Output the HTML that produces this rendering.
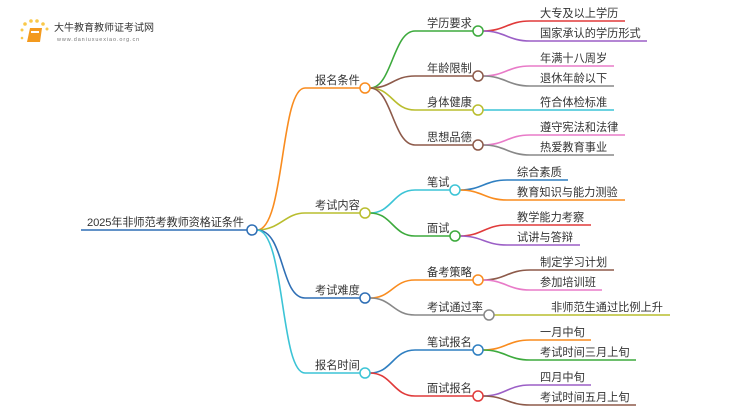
<!DOCTYPE html>
<html><head><meta charset="utf-8"><style>
body{margin:0;background:#fff;width:750px;height:410px;overflow:hidden}
svg{display:block}
text{font-family:"Liberation Sans","Noto Sans CJK SC",sans-serif;font-size:11.2px;fill:#333}
path.c{fill:none;stroke-width:1.6}
circle.n{fill:#fff;stroke-width:1.5}
</style></head><body>
<svg width="750" height="410" viewBox="0 0 750 410">
<!-- logo -->
<g>
<circle cx="22" cy="30" r="1.5" style="fill:#f9c84a"/>
<circle cx="25" cy="24" r="1.8" style="fill:#f9c84a"/>
<circle cx="31" cy="21" r="1.8" style="fill:#f9c84a"/>
<circle cx="37" cy="21" r="1.8" style="fill:#f9c84a"/>
<circle cx="43" cy="24" r="1.8" style="fill:#f9c84a"/>
<circle cx="47" cy="29" r="1.5" style="fill:#f9c84a"/>
<circle cx="22" cy="38" r="1.3" style="fill:#f9c84a"/>
<path d="M30 28 H42 L40 42 H27 Z" style="fill:#f39a1e"/>
<rect x="31" y="31" width="8" height="2" style="fill:#fff"/>
<text x="54" y="31" style="font-size:10px;fill:#333">大牛教育教师证考试网</text>
<text x="57" y="41" style="font-size:5.5px;fill:#777;letter-spacing:0.9px">www.daniuxuexiao.org.cn</text>
</g>

<!-- root -->
<path class="c" d="M81 230 H247" stroke="#2f6fb5"/>
<text x="87" y="226" textLength="157">2025年非师范考教师资格证条件</text>

<!-- root -> L1 -->
<path class="c" d="M257 230 C285 230 280 88 305 88 H360" stroke="#f98c1f"/>
<path class="c" d="M257 230 C280 230 285 213 305 213 H360" stroke="#b9bd2e"/>
<path class="c" d="M257 230 C285 230 280 298 305 298 H360" stroke="#2f6fb5"/>
<path class="c" d="M257 230 C285 230 280 373 305 373 H360" stroke="#3cc4d6"/>
<text x="315" y="84">报名条件</text>
<text x="315" y="209">考试内容</text>
<text x="315" y="294">考试难度</text>
<text x="315" y="369">报名时间</text>

<!-- L1 -> L2 -->
<path class="c" d="M370 88 C392 88 393 31 415 31 H473" stroke="#3daa3d"/>
<path class="c" d="M370 88 C392 88 393 76 415 76 H473" stroke="#8d5a4a"/>
<path class="c" d="M370 88 C392 88 393 110 415 110 H473" stroke="#b9bd2e"/>
<path class="c" d="M370 88 C392 88 393 145 415 145 H473" stroke="#8d5a4a"/>
<path class="c" d="M370 213 C392 213 393 190 415 190 H450" stroke="#3cc4d6"/>
<path class="c" d="M370 213 C392 213 393 236 415 236 H450" stroke="#3daa3d"/>
<path class="c" d="M370 298 C392 298 393 280 415 280 H473" stroke="#f98c1f"/>
<path class="c" d="M370 298 C392 298 393 315 415 315 H484" stroke="#888"/>
<path class="c" d="M370 373 C392 373 393 350 415 350 H473" stroke="#2f7fc1"/>
<path class="c" d="M370 373 C392 373 393 396 415 396 H473" stroke="#e03a3a"/>
<text x="427" y="27">学历要求</text>
<text x="427" y="72">年龄限制</text>
<text x="427" y="106">身体健康</text>
<text x="427" y="141">思想品德</text>
<text x="427" y="186">笔试</text>
<text x="427" y="232">面试</text>
<text x="427" y="276">备考策略</text>
<text x="427" y="311">考试通过率</text>
<text x="427" y="346">笔试报名</text>
<text x="427" y="392">面试报名</text>

<!-- L2 -> L3 -->
<path class="c" d="M483 31 C505 31 508 21 530 21 H625" stroke="#e03a3a"/>
<path class="c" d="M483 31 C505 31 508 41 530 41 H647" stroke="#9b5fc6"/>
<path class="c" d="M483 76 C505 76 508 66 530 66 H614" stroke="#e87bc8"/>
<path class="c" d="M483 76 C505 76 508 86 530 86 H614" stroke="#888"/>
<path class="c" d="M483 110 H614" stroke="#3cc4d6"/>
<path class="c" d="M483 145 C505 145 508 135 530 135 H625" stroke="#e87bc8"/>
<path class="c" d="M483 145 C505 145 508 155 530 155 H614" stroke="#888"/>
<path class="c" d="M460 190 C482 190 485 180 507 180 H568" stroke="#2f7fc1"/>
<path class="c" d="M460 190 C482 190 485 200 507 200 H625" stroke="#f98c1f"/>
<path class="c" d="M460 236 C482 236 485 225 507 225 H591" stroke="#e03a3a"/>
<path class="c" d="M460 236 C482 236 485 245 507 245 H580" stroke="#9b5fc6"/>
<path class="c" d="M483 280 C505 280 508 270 530 270 H614" stroke="#8d5a4a"/>
<path class="c" d="M483 280 C505 280 508 290 530 290 H602" stroke="#e87bc8"/>
<path class="c" d="M494 315 H670" stroke="#b9bd2e"/>
<path class="c" d="M483 350 C505 350 508 340 530 340 H591" stroke="#f98c1f"/>
<path class="c" d="M483 350 C505 350 508 360 530 360 H636" stroke="#3daa3d"/>
<path class="c" d="M483 396 C505 396 508 385 530 385 H591" stroke="#9b5fc6"/>
<path class="c" d="M483 396 C505 396 508 405 530 405 H636" stroke="#8d5a4a"/>

<text x="540" y="17">大专及以上学历</text>
<text x="540" y="37">国家承认的学历形式</text>
<text x="540" y="62">年满十八周岁</text>
<text x="540" y="82">退休年龄以下</text>
<text x="540" y="106">符合体检标准</text>
<text x="540" y="131">遵守宪法和法律</text>
<text x="540" y="151">热爱教育事业</text>
<text x="517" y="176">综合素质</text>
<text x="517" y="196">教育知识与能力测验</text>
<text x="517" y="221">教学能力考察</text>
<text x="517" y="241">试讲与答辩</text>
<text x="540" y="266">制定学习计划</text>
<text x="540" y="286">参加培训班</text>
<text x="551" y="311">非师范生通过比例上升</text>
<text x="540" y="336">一月中旬</text>
<text x="540" y="356">考试时间三月上旬</text>
<text x="540" y="381">四月中旬</text>
<text x="540" y="401">考试时间五月上旬</text>

<!-- circles -->
<circle class="n" cx="252" cy="230" r="5" stroke="#2f6fb5"/>
<circle class="n" cx="365" cy="88" r="5" stroke="#f98c1f"/>
<circle class="n" cx="365" cy="213" r="5" stroke="#b9bd2e"/>
<circle class="n" cx="365" cy="298" r="5" stroke="#2f6fb5"/>
<circle class="n" cx="365" cy="373" r="5" stroke="#3cc4d6"/>
<circle class="n" cx="478" cy="31" r="5" stroke="#3daa3d"/>
<circle class="n" cx="478" cy="76" r="5" stroke="#8d5a4a"/>
<circle class="n" cx="478" cy="110" r="5" stroke="#b9bd2e"/>
<circle class="n" cx="478" cy="145" r="5" stroke="#8d5a4a"/>
<circle class="n" cx="455" cy="190" r="5" stroke="#3cc4d6"/>
<circle class="n" cx="455" cy="236" r="5" stroke="#3daa3d"/>
<circle class="n" cx="478" cy="280" r="5" stroke="#f98c1f"/>
<circle class="n" cx="489" cy="315" r="5" stroke="#888"/>
<circle class="n" cx="478" cy="350" r="5" stroke="#2f7fc1"/>
<circle class="n" cx="478" cy="396" r="5" stroke="#e03a3a"/>
</svg>
</body></html>
